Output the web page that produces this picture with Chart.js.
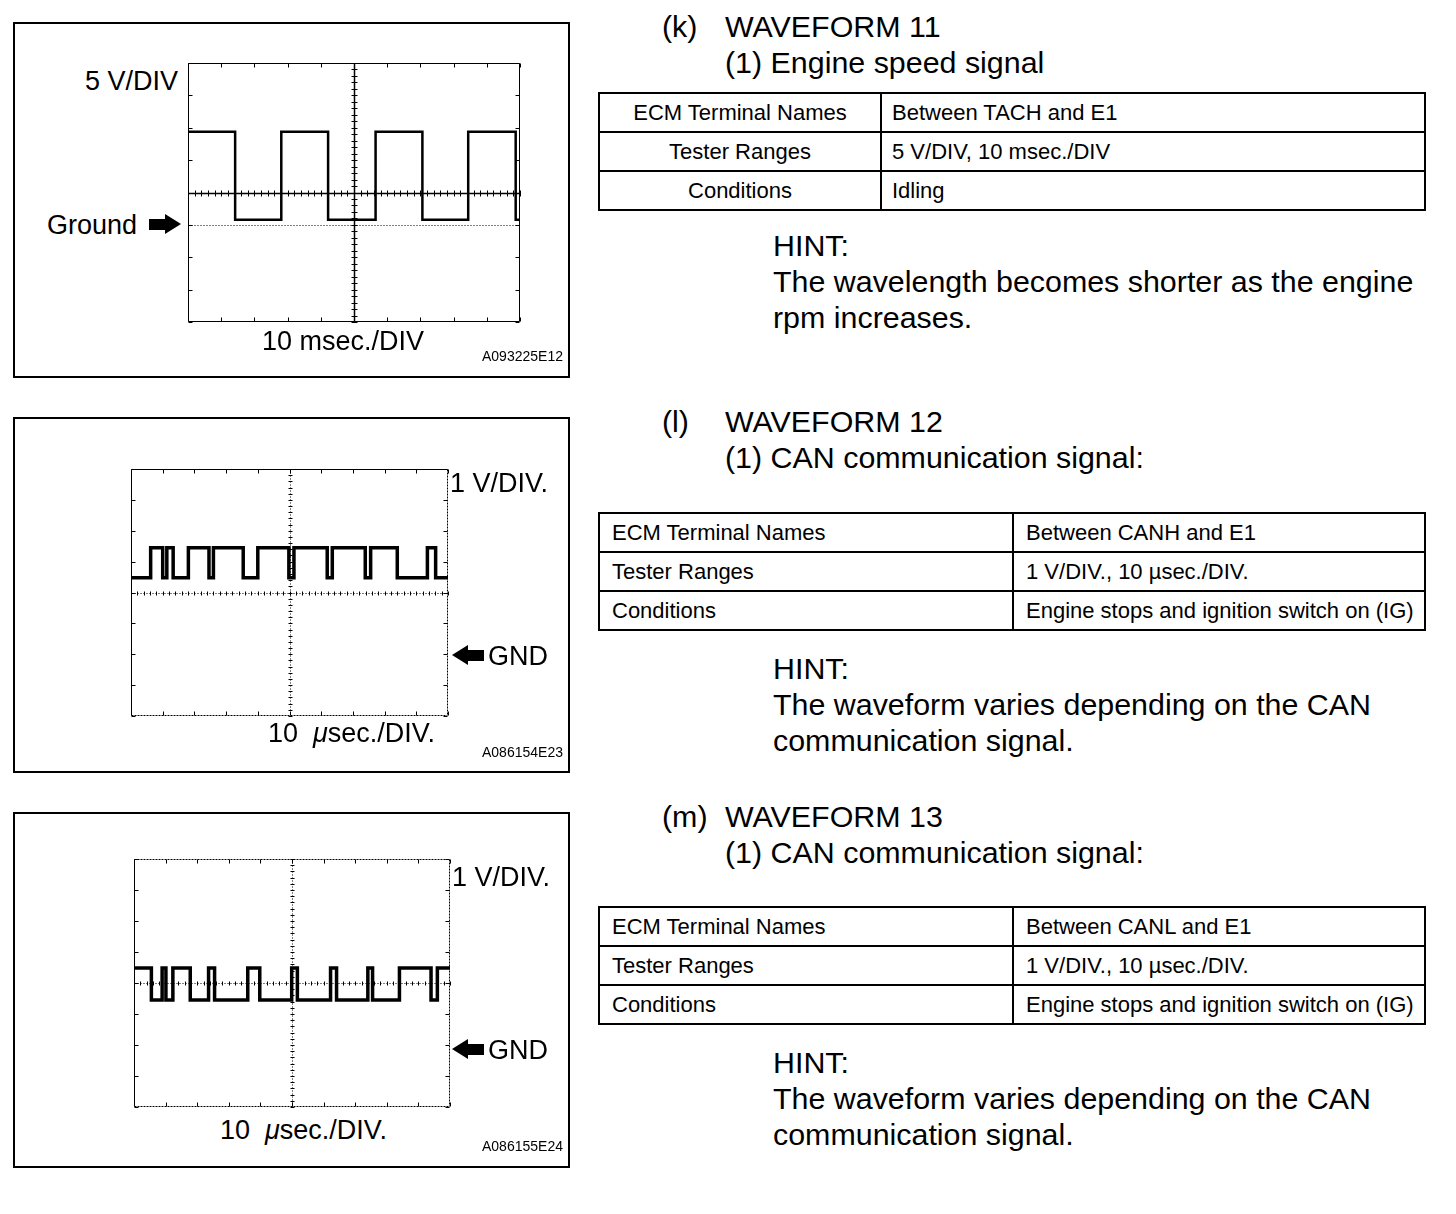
<!DOCTYPE html>
<html>
<head>
<meta charset="utf-8">
<script src="https://cdn.jsdelivr.net/npm/chart.js@4.4.1/dist/chart.umd.min.js"></script>
<style>
  body { margin:0; width:1456px; height:1214px; background:#fff; position:relative; overflow:hidden;
         font-family:"Liberation Sans", Arial, Helvetica, sans-serif; color:#000; }
  .panel { position:absolute; left:13px; width:557px; height:356px; border:2px solid #000; box-sizing:border-box; }
  .plot { position:absolute; }
  .t { position:absolute; white-space:nowrap; }
  .big { font-size:30.4px; line-height:36px; }
  .lab { font-size:27px; line-height:30px; }
  .code { font-size:14px; line-height:16px; }
  table.spec { position:absolute; left:598px; width:828px; border-collapse:collapse; table-layout:fixed; font-size:22px; }
  table.spec td { border:2px solid #000; height:37px; padding:0 12px; line-height:24px; white-space:nowrap; }
  table.spec td.c { text-align:center; }
  table.spec td.p { padding-left:10px; }
  .arrow { position:absolute; width:32px; height:21px; }
  .arrow .bar { position:absolute; top:5px; width:17px; height:11px; background:#000; }
  .arrow .head { position:absolute; top:0; width:0; height:0; border-top:10.5px solid transparent; border-bottom:10.5px solid transparent; }
  .arrow.r .bar { left:0; }
  .arrow.r .head { left:16px; border-left:16px solid #000; }
  .arrow.l .bar { right:0; }
  .arrow.l .head { left:0; border-right:16px solid #000; }
</style>
</head>
<body>

<!-- left: scope panels -->
<div class="panel" style="top:22px"></div>
<div class="panel" style="top:417px"></div>
<div class="panel" style="top:812px"></div>

<div class="plot" style="left:180px;top:55px;width:348px;height:275px"><canvas id="tach"></canvas></div>
<div class="plot" style="left:123px;top:461px;width:333px;height:263px"><canvas id="canh"></canvas></div>
<div class="plot" style="left:126px;top:851px;width:332px;height:264px"><canvas id="canl"></canvas></div>

<div class="t lab" style="left:85px;top:66px">5 V/DIV</div>
<div class="t lab" style="left:47px;top:210px">Ground</div>
<div class="arrow r" style="left:149px;top:214px"><div class="bar"></div><div class="head"></div></div>
<div class="t lab" style="left:262px;top:326px">10 msec./DIV</div>
<div class="t code" style="left:482px;top:348px">A093225E12</div>

<div class="t lab" style="left:450px;top:468px">1 V/DIV.</div>
<div class="arrow l" style="left:452px;top:645px"><div class="bar"></div><div class="head"></div></div>
<div class="t lab" style="left:488px;top:641px">GND</div>
<div class="t lab" style="left:268px;top:718px">10&nbsp;&nbsp;<i>μ</i>sec./DIV.</div>
<div class="t code" style="left:482px;top:744px">A086154E23</div>

<div class="t lab" style="left:452px;top:862px">1 V/DIV.</div>
<div class="arrow l" style="left:452px;top:1039px"><div class="bar"></div><div class="head"></div></div>
<div class="t lab" style="left:488px;top:1035px">GND</div>
<div class="t lab" style="left:220px;top:1115px">10&nbsp;&nbsp;<i>μ</i>sec./DIV.</div>
<div class="t code" style="left:482px;top:1138px">A086155E24</div>

<!-- right: text -->
<div class="t big" style="left:662px;top:8px">(k)</div>
<div class="t big" style="left:725px;top:8px">WAVEFORM 11</div>
<div class="t big" style="left:725px;top:44px">(1) Engine speed signal</div>
<table class="spec" style="top:92px">
  <col style="width:282px"><col>
  <tr><td class="c">ECM Terminal Names</td><td class="p">Between TACH and E1</td></tr>
  <tr><td class="c">Tester Ranges</td><td class="p">5 V/DIV, 10 msec./DIV</td></tr>
  <tr><td class="c">Conditions</td><td class="p">Idling</td></tr>
</table>
<div class="t big" style="left:773px;top:227px">HINT:</div>
<div class="t big" style="left:773px;top:263px">The wavelength becomes shorter as the engine</div>
<div class="t big" style="left:773px;top:299px">rpm increases.</div>

<div class="t big" style="left:662px;top:403px">(l)</div>
<div class="t big" style="left:725px;top:403px">WAVEFORM 12</div>
<div class="t big" style="left:725px;top:439px">(1) CAN communication signal:</div>
<table class="spec" style="top:512px">
  <col style="width:414px"><col>
  <tr><td>ECM Terminal Names</td><td>Between CANH and E1</td></tr>
  <tr><td>Tester Ranges</td><td>1 V/DIV., 10 µsec./DIV.</td></tr>
  <tr><td>Conditions</td><td>Engine stops and ignition switch on (IG)</td></tr>
</table>
<div class="t big" style="left:773px;top:650px">HINT:</div>
<div class="t big" style="left:773px;top:686px">The waveform varies depending on the CAN</div>
<div class="t big" style="left:773px;top:722px">communication signal.</div>

<div class="t big" style="left:662px;top:798px">(m)</div>
<div class="t big" style="left:725px;top:798px">WAVEFORM 13</div>
<div class="t big" style="left:725px;top:834px">(1) CAN communication signal:</div>
<table class="spec" style="top:906px">
  <col style="width:414px"><col>
  <tr><td>ECM Terminal Names</td><td>Between CANL and E1</td></tr>
  <tr><td>Tester Ranges</td><td>1 V/DIV., 10 µsec./DIV.</td></tr>
  <tr><td>Conditions</td><td>Engine stops and ignition switch on (IG)</td></tr>
</table>
<div class="t big" style="left:773px;top:1044px">HINT:</div>
<div class="t big" style="left:773px;top:1080px">The waveform varies depending on the CAN</div>
<div class="t big" style="left:773px;top:1116px">communication signal.</div>

<script>
// Waveform 11: engine speed (ms, V) - each point is an edge: level changes to the value at that time
const tachTimes = [0, 14.2, 28.1, 42.2, 56.5, 70.6, 84.4, 98.7, 100];
const tachVolts = [14.4, 0.8, 14.4, 0.8, 14.4, 0.8, 14.4, 0.8, 0.8];

// Waveform 12: CANH (us, V)
const canhTimes = [0, 6.2, 10.0, 11.3, 13.3, 18.1, 24.6, 26.0, 35.4, 40.0, 49.8, 51.4, 61.9, 63.5, 73.9, 75.6, 84.0, 93.5, 96.1, 100];
const canhVolts = [2.48, 3.45, 2.48, 3.45, 2.48, 3.45, 2.48, 3.45, 2.48, 3.45, 2.48, 3.45, 2.48, 3.45, 2.48, 3.45, 2.48, 3.45, 2.48, 2.48];

// Waveform 13: CANL (us, V)
const canlTimes = [0, 5.5, 8.9, 10.1, 12.3, 17.8, 23.6, 25.5, 36.0, 39.8, 49.9, 51.7, 62.2, 64.1, 74.0, 75.5, 84.0, 94.0, 96.0, 100];
const canlVolts = [2.48, 1.45, 2.48, 1.45, 2.48, 1.45, 2.48, 1.45, 2.48, 1.45, 2.48, 1.45, 2.48, 1.45, 2.48, 1.45, 2.48, 1.45, 2.48, 2.48];

// screen: 10 x 8 divisions
const tachRange = { xMax: 100, xDiv: 10, yMin: -15, yMax: 25, yDiv: 5 };
const canRange  = { xMax: 100, xDiv: 10, yMin: -2,  yMax: 6,  yDiv: 1 };

function seg(ctx, x1, y1, x2, y2) {
  ctx.beginPath(); ctx.moveTo(x1, y1); ctx.lineTo(x2, y2); ctx.stroke();
}

// oscilloscope graticule, drawn from the chart's own scales
const graticule = {
  id: 'graticule',
  beforeDatasetsDraw(chart, args, o) {
    const { ctx, chartArea: a, scales: { x, y } } = chart;
    const L = Math.round(a.left) + 0.5, R = Math.round(a.right) - 0.5;
    const T = Math.round(a.top) + 0.5, B = Math.round(a.bottom) - 0.5;
    ctx.save();
    ctx.strokeStyle = '#000';
    ctx.lineWidth = 1;

    // frame
    const edges = { top: [L, T, R, T], bottom: [L, B, R, B], left: [L, T, L, B], right: [R, T, R, B] };
    for (const k in edges) {
      ctx.setLineDash(o.dotted.includes(k) ? [2, 1] : []);
      seg(ctx, ...edges[k]);
    }
    ctx.setLineDash([]);

    // division ticks on the frame
    for (let v = x.min; v <= x.max + 1e-6; v += o.xDiv) {
      const px = Math.round(x.getPixelForValue(v)) + 0.5;
      seg(ctx, px, T, px, T + 4);
      seg(ctx, px, B, px, B - 4);
    }
    for (let v = y.min; v <= y.max + 1e-6; v += o.yDiv) {
      const py = Math.round(y.getPixelForValue(v)) + 0.5;
      seg(ctx, L, py, L + 4, py);
      seg(ctx, R, py, R - 4, py);
    }

    // centre cross
    const cx = Math.round(x.getPixelForValue((x.min + x.max) / 2)) + 0.5;
    const cy = Math.round(y.getPixelForValue((y.min + y.max) / 2)) + 0.5;
    ctx.lineWidth = o.crossWidth;
    ctx.setLineDash(o.crossDash);
    seg(ctx, cx, T, cx, B);
    seg(ctx, L, cy, R, cy);
    ctx.setLineDash([]);
    ctx.lineWidth = 1;
    for (let v = x.min; v <= x.max + 1e-6; v += o.xDiv / 5) {
      const px = Math.round(x.getPixelForValue(v)) + 0.5;
      seg(ctx, px, cy - o.tick, px, cy + o.tick);
    }
    for (let v = y.min; v <= y.max + 1e-6; v += o.yDiv / 5) {
      const py = Math.round(y.getPixelForValue(v)) + 0.5;
      seg(ctx, cx - o.tick, py, cx + o.tick, py);
    }

    // ground reference
    if (o.ground) {
      const gy = Math.round(y.getPixelForValue(0)) + 0.5;
      ctx.setLineDash([1, 2]);
      seg(ctx, L, gy, R, gy);
    }
    ctx.restore();
  }
};

function scope(id, times, volts, r, width, grat) {
  return new Chart(document.getElementById(id), {
    type: 'line',
    data: {
      datasets: [{
        data: times.map((t, i) => ({ x: t, y: volts[i] })),
        borderColor: '#000',
        borderWidth: width,
        pointRadius: 0,
        stepped: true,
        fill: false
      }]
    },
    options: {
      responsive: true,
      maintainAspectRatio: false,
      animation: false,
      events: [],
      layout: { padding: 8 },
      plugins: {
        legend: { display: false },
        tooltip: { enabled: false },
        graticule: Object.assign({ xDiv: r.xDiv, yDiv: r.yDiv }, grat)
      },
      scales: {
        x: { type: 'linear', min: 0, max: r.xMax, display: false },
        y: { type: 'linear', min: r.yMin, max: r.yMax, display: false }
      }
    },
    plugins: [graticule]
  });
}

scope('tach', tachTimes, tachVolts, tachRange, 2.5,
  { dotted: [], crossDash: [], crossWidth: 1.5, tick: 3, ground: true });
scope('canh', canhTimes, canhVolts, canRange, 3.5,
  { dotted: ['right', 'bottom'], crossDash: [1, 2], crossWidth: 1, tick: 2, ground: false });
scope('canl', canlTimes, canlVolts, canRange, 3.5,
  { dotted: ['top', 'right', 'bottom'], crossDash: [1, 2], crossWidth: 1, tick: 2, ground: false });
</script>
</body>
</html>
